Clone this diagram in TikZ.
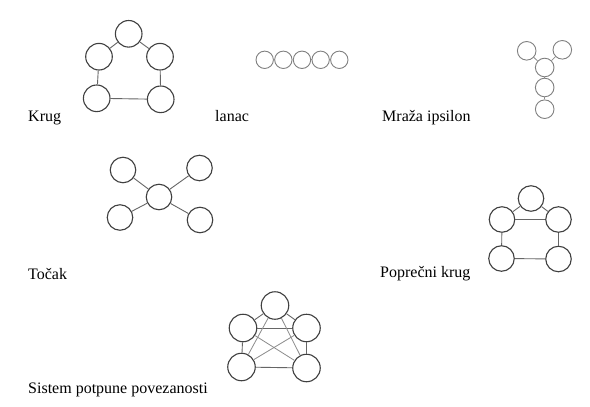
\documentclass[tikz,border=0pt]{standalone}
\usepackage{fontspec}
\setmainfont{Liberation Serif}
\tikzset{
  bignode/.style={circle,draw=black!75,line width=1.1pt,inner sep=0pt,minimum size=#1},
  smallnode/.style={circle,draw=black!50,line width=0.9pt,inner sep=0pt,minimum size=#1},
  edgeline/.style={draw=black!60,line width=0.9pt},
  lightedge/.style={draw=black!45,line width=0.8pt},
  lbl/.style={anchor=base west,inner sep=0pt,font=\fontsize{16}{19}\selectfont}
}
\begin{document}
\begin{tikzpicture}[x=1pt,y=-1pt]
\useasboundingbox[fill=white] (0,0) rectangle (590,407);

% Krug
\node[bignode=26.6pt] (k1) at (128.7,33.8) {};
\node[bignode=26.6pt] (k2) at (99,56.7) {};
\node[bignode=26.6pt] (k3) at (160,56.7) {};
\node[bignode=26.6pt] (k4) at (96.7,98.3) {};
\node[bignode=26.6pt] (k5) at (160.7,99.3) {};
\draw[edgeline] (k1) -- (k2);
\draw[edgeline] (k1) -- (k3);
\draw[edgeline] (k2) -- (k4);
\draw[edgeline] (k3) -- (k5);
\draw[edgeline] (k4) -- (k5);
\node[lbl] (tk) at (28,121.5) {Krug};

% lanac
\foreach \i in {0,...,4}{
  \node[smallnode=17.4pt] (c\i) at (264.7+18.65*\i,59.8) {};
}
\draw[lightedge] (c0) -- (c1);
\draw[lightedge] (c1) -- (c2);
\draw[lightedge] (c2) -- (c3);
\draw[lightedge] (c3) -- (c4);
\node[lbl] (tl) at (215,121.5) {lanac};

% Mraza ipsilon
\node[smallnode=18.6pt] (y1) at (526.7,50.8) {};
\node[smallnode=18.6pt] (y2) at (562.3,49.8) {};
\node[smallnode=18.6pt] (y3) at (544.7,67.5) {};
\node[smallnode=18.6pt] (y4) at (544.7,87.5) {};
\node[smallnode=18.6pt] (y5) at (544.7,109.2) {};
\draw[lightedge] (y1) -- (y3);
\draw[lightedge] (y2) -- (y3);
\draw[lightedge] (y3) -- (y4);
\draw[lightedge] (y4) -- (y5);
\node[lbl] (ty) at (382,121.5) {Mraža ipsilon};

% Tocak
\node[bignode=25.5pt] (t0) at (159,197) {};
\node[bignode=25.5pt] (t1) at (123,170) {};
\node[bignode=25.5pt] (t2) at (199.5,168) {};
\node[bignode=25.5pt] (t3) at (120,217.5) {};
\node[bignode=25.5pt] (t4) at (200,220) {};
\draw[edgeline] (t0) -- (t1);
\draw[edgeline] (t0) -- (t2);
\draw[edgeline] (t0) -- (t3);
\draw[edgeline] (t0) -- (t4);
\node[lbl] (tt) at (28,279.5) {Točak};

% Poprecni krug
\node[bignode=25.5pt] (p1) at (531,198.5) {};
\node[bignode=25.5pt] (p2) at (502,219.5) {};
\node[bignode=25.5pt] (p3) at (558.5,219.5) {};
\node[bignode=25.5pt] (p4) at (501.5,258.5) {};
\node[bignode=25.5pt] (p5) at (558.5,259) {};
\draw[edgeline] (p1) -- (p2);
\draw[edgeline] (p1) -- (p3);
\draw[edgeline] (p2) -- (p3);
\draw[edgeline] (p2) -- (p4);
\draw[edgeline] (p3) -- (p5);
\draw[edgeline] (p4) -- (p5);
\node[lbl] (tp) at (380,277.5) {Poprečni krug};

% Sistem potpune povezanosti
\node[bignode=27.5pt] (s1) at (275,305.5) {};
\node[bignode=27.5pt] (s2) at (243,328) {};
\node[bignode=27.5pt] (s3) at (306.5,328) {};
\node[bignode=27.5pt] (s4) at (241.5,367) {};
\node[bignode=27.5pt] (s5) at (306.5,368) {};
\draw[edgeline] (s1) -- (s2);
\draw[edgeline] (s1) -- (s3);
\draw[edgeline] (s2) -- (s3);
\draw[edgeline] (s2) -- (s4);
\draw[edgeline] (s3) -- (s5);
\draw[edgeline] (s4) -- (s5);
\draw[lightedge] (s1) -- (s4);
\draw[lightedge] (s1) -- (s5);
\draw[lightedge] (s2) -- (s5);
\draw[lightedge] (s3) -- (s4);
\node[lbl] (ts) at (28,393) {Sistem potpune povezanosti};
\end{tikzpicture}
\end{document}
